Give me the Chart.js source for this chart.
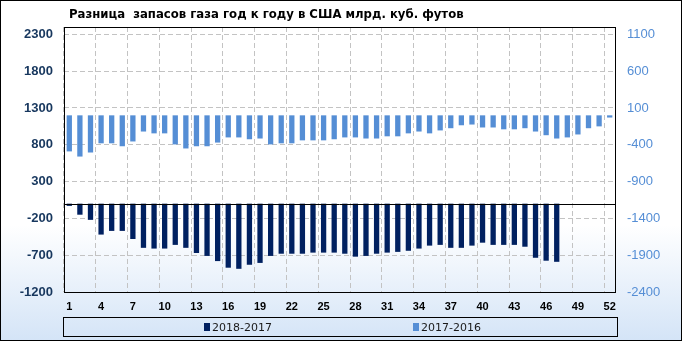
<!DOCTYPE html>
<html>
<head>
<meta charset="utf-8">
<script src="https://cdn.jsdelivr.net/npm/chart.js@4.4.1/dist/chart.umd.min.js"></script>
<style>
  html, body { margin: 0; padding: 0; background: #fff; }
  #wrap { width: 682px; height: 341px; position: relative; }
</style>
</head>
<body>
<div id="wrap"><canvas id="gas" width="682" height="341"></canvas></div>
<script>
// Разница запасов газа год к году, млрд. куб. футов
const title = "Разница  запасов газа год к году в США млрд. куб. футов";

const weeks = ["1", "2", "3", "4", "5", "6", "7", "8", "9", "10", "11", "12", "13", "14", "15", "16", "17", "18",
  "19", "20", "21", "22", "23", "24", "25", "26", "27", "28", "29", "30", "31", "32", "33", "34", "35", "36",
  "37", "38", "39", "40", "41", "42", "43", "44", "45", "46", "47", "48", "49", "50", "51", "52"];

// левая ось
const diff2018 = [-30, -150, -220, -420, -370, -370, -480, -600, -610, -610,
  -560, -600, -670, -710, -780, -870, -885, -830, -805, -710,
  -680, -680, -680, -665, -665, -665, -680, -720, -710, -680,
  -665, -655, -640, -610, -570, -560, -600, -600, -570, -530,
  -560, -560, -560, -585, -735, -775, -790, null, null, null, null, null];

// правая ось
const diff2017 = [-490, -560, -505, -380, -380, -420, -355, -220, -245, -245,
  -395, -450, -420, -420, -370, -300, -300, -325, -315, -395,
  -380, -380, -340, -340, -340, -325, -300, -300, -315, -315,
  -285, -285, -245, -220, -245, -205, -175, -135, -125, -165,
  -165, -190, -190, -175, -220, -270, -315, -300, -260, -175, -150, -30];

const leftTicks = [-1200, -700, -200, 300, 800, 1300, 1800, 2300];
const rightTicks = [-2400, -1900, -1400, -900, -400, 100, 600, 1100];

const GRID = "#c3c3c3";

const frame = {
  id: "frame",
  beforeDraw(chart) {
    const { ctx, width, height } = chart;
    ctx.save();
    const bg = ctx.createLinearGradient(0, 0, 0, height);
    bg.addColorStop(0, "#ffffff");
    bg.addColorStop(0.66, "#ffffff");
    bg.addColorStop(1, "#d4e4f7");
    ctx.fillStyle = bg;
    ctx.fillRect(0, 0, width, height);
    ctx.restore();
  },
  afterDatasetsDraw(chart) {
    const { ctx, chartArea: a, width, height } = chart;
    const zero = Math.round(chart.scales.yLeft.getPixelForValue(0)) + 0.5;
    ctx.save();
    ctx.strokeStyle = "#000";
    ctx.lineWidth = 1;
    ctx.beginPath();
    ctx.moveTo(a.left, zero);
    ctx.lineTo(a.right, zero);
    ctx.stroke();
    ctx.strokeRect(Math.round(a.left) + 0.5, Math.round(a.top) + 0.5, Math.round(a.width), Math.round(a.height));
    // рамка всей картинки
    ctx.strokeRect(0.5, 0.5, width - 1, height - 1);

    // заголовок
    ctx.fillStyle = "#000";
    ctx.font = "bold 11.7px 'DejaVu Sans', sans-serif";
    ctx.textBaseline = "alphabetic";
    ctx.textAlign = "left";
    ctx.fillText(title, 69, 18);

    // легенда
    ctx.strokeRect(63.5, 317.5, 554, 19);
    ctx.font = "11px 'DejaVu Sans', sans-serif";
    const items = [[204, 0], [413, 1]];
    items.forEach(([x, i]) => {
      const ds = chart.data.datasets[i];
      ctx.fillStyle = ds.backgroundColor;
      ctx.fillRect(x, 323, 6, 8);
      ctx.fillStyle = "#1a1a1a";
      ctx.fillText(ds.label, x + 8, 331);
    });
    ctx.restore();
  }
};

new Chart(document.getElementById("gas"), {
  type: "bar",
  data: {
    labels: weeks,
    datasets: [
      { label: "2018-2017", data: diff2018, yAxisID: "yLeft", backgroundColor: "#002060",
        grouped: false, barPercentage: 0.5, categoryPercentage: 1 },
      { label: "2017-2016", data: diff2017, yAxisID: "yRight", backgroundColor: "#558ed5",
        grouped: false, barPercentage: 0.5, categoryPercentage: 1 }
    ]
  },
  options: {
    responsive: false,
    animation: false,
    layout: { padding: { top: 27, left: 0, right: 0, bottom: 0 } },
    plugins: { legend: { display: false }, tooltip: { enabled: false } },
    scales: {
      x: {
        offset: true,
        grid: { offset: true, drawTicks: false, color: (c) => (c.index % 3 === 0 ? GRID : "rgba(0,0,0,0)") },
        border: { display: false, dash: [5, 3] },
        ticks: {
          autoSkip: false, maxRotation: 0, padding: 8, color: "#000",
          font: { family: "'Liberation Sans', Arial", size: 11, weight: "bold" },
          callback: (v, i) => (i % 3 === 0 ? weeks[i] : "")
        },
        afterFit: (s) => { s.height = 49; }
      },
      yLeft: {
        position: "left", min: -1200, max: 2400,
        afterBuildTicks: (s) => { s.ticks = leftTicks.map((v) => ({ value: v })); },
        grid: { drawTicks: false, color: GRID },
        border: { display: false, dash: [5, 3] },
        ticks: {
          padding: 11, color: "#17375e", callback: (v) => String(v),
          font: { family: "'Liberation Sans', Arial", size: 13, weight: "bold" }
        },
        afterFit: (s) => { s.width = 64; }
      },
      yRight: {
        position: "right", min: -2400, max: 1200,
        afterBuildTicks: (s) => { s.ticks = rightTicks.map((v) => ({ value: v })); },
        grid: { display: false, drawTicks: false },
        border: { display: false },
        ticks: {
          padding: 12, color: "#558ed5", callback: (v) => String(v),
          font: { family: "'Liberation Sans', Arial", size: 13 }
        },
        afterFit: (s) => { s.width = 67; }
      }
    }
  },
  plugins: [frame]
});
</script>
</body>
</html>
